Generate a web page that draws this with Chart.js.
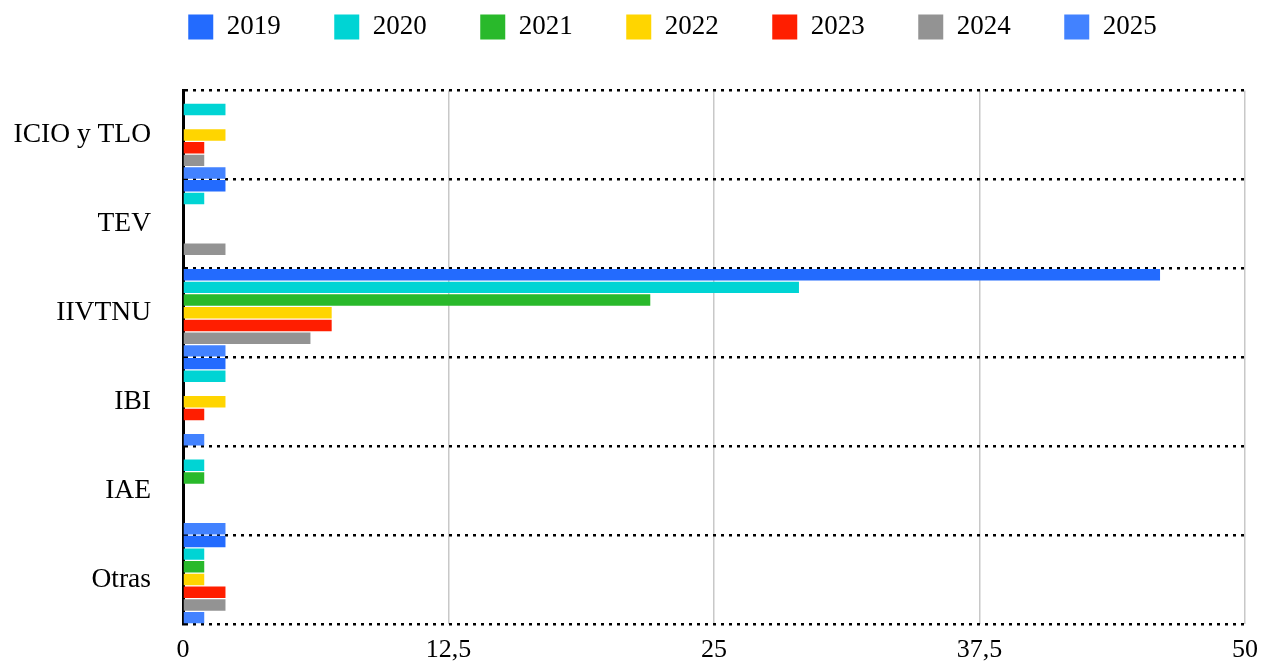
<!DOCTYPE html>
<html>
<head>
<meta charset="utf-8">
<script src="https://cdn.jsdelivr.net/npm/chart.js@4.4.0/dist/chart.umd.min.js"></script>
<style>
  html, body { margin: 0; padding: 0; background: #fff; }
  #wrap { width: 1261px; height: 661px; }
</style>
</head>
<body>
<div id="wrap"><canvas id="grafico"></canvas></div>
<script>
// Datos
const categorias = ['ICIO y TLO', 'TEV', 'IIVTNU', 'IBI', 'IAE', 'Otras'];
const anios = ['2019', '2020', '2021', '2022', '2023', '2024', '2025'];
const valores2019 = [0, 2, 46, 2, 0, 2];
const valores2020 = [2, 1, 29, 2, 1, 1];
const valores2021 = [0, 0, 22, 0, 1, 1];
const valores2022 = [2, 0, 7, 2, 0, 1];
const valores2023 = [1, 0, 7, 1, 0, 2];
const valores2024 = [1, 2, 6, 0, 0, 2];
const valores2025 = [2, 0, 2, 1, 2, 1];
const ticksEjeX = [0, 12.5, 25, 37.5, 50];

const colores = ['#236BFE', '#00D4D4', '#29B92B', '#FFD500', '#FF1E00', '#939393', '#4282FF'];
const series = [valores2019, valores2020, valores2021, valores2022, valores2023, valores2024, valores2025];

const fuente = 'Liberation Serif';

// Mover la leyenda (mas espacio horizontal sin tanto margen vertical)
const ajusteLeyenda = {
    id: 'ajusteLeyenda',
    afterLayout(chart) {
        const ley = chart.legend;
        if (!ley) return;
        ley.left += 43; ley.right += 43;
        ley.top -= 40; ley.bottom -= 40;
    }
};

const ctx = document.getElementById('grafico').getContext('2d');
new Chart(ctx, {
    type: 'bar',
    data: {
        labels: categorias,
        datasets: series.map((datos, i) => ({
            label: anios[i],
            data: datos,
            backgroundColor: colores[i],
            borderWidth: 0,
            categoryPercentage: 1,
            barPercentage: 0.9
        }))
    },
    plugins: [ajusteLeyenda],
    options: {
        indexAxis: 'y',
        responsive: true,
        maintainAspectRatio: false,
        animation: false,
        layout: { padding: { left: 14, right: 16, top: 0, bottom: 0 } },
        plugins: {
            legend: {
                position: 'top',
                maxHeight: 91,
                labels: {
                    boxWidth: 25,
                    boxHeight: 25,
                    padding: 53.5,
                    color: '#000',
                    font: { family: fuente, size: 27 }
                }
            },
            tooltip: { enabled: false }
        },
        scales: {
            x: {
                min: 0,
                max: 50,
                afterBuildTicks: (scale) => {
                    scale.ticks = ticksEjeX.map(v => ({ value: v }));
                },
                afterFit: (scale) => {
                    scale.height = 37;
                    scale.paddingLeft = 0;
                    scale.paddingRight = 0;
                },
                ticks: {
                    color: '#000',
                    padding: 11,
                    maxRotation: 0,
                    font: { family: fuente, size: 26 },
                    callback: (v) => String(v).replace('.', ',')
                },
                grid: {
                    color: (c) => c.index === 0 ? 'rgba(0,0,0,0)' : '#c8c8c8',
                    lineWidth: 1.5,
                    drawTicks: false
                },
                border: { display: false }
            },
            y: {
                afterFit: (scale) => {
                    scale.width = 169;
                    scale.paddingTop = 0;
                    scale.paddingBottom = 0;
                },
                ticks: {
                    color: '#000',
                    padding: 32,
                    font: { family: fuente, size: 27.5 }
                },
                grid: {
                    color: '#000',
                    lineWidth: 2.5,
                    drawTicks: false,
                    offset: true
                },
                border: { display: true, color: '#000', width: 3, dash: [3, 5] }
            }
        }
    }
});
</script>
</body>
</html>
